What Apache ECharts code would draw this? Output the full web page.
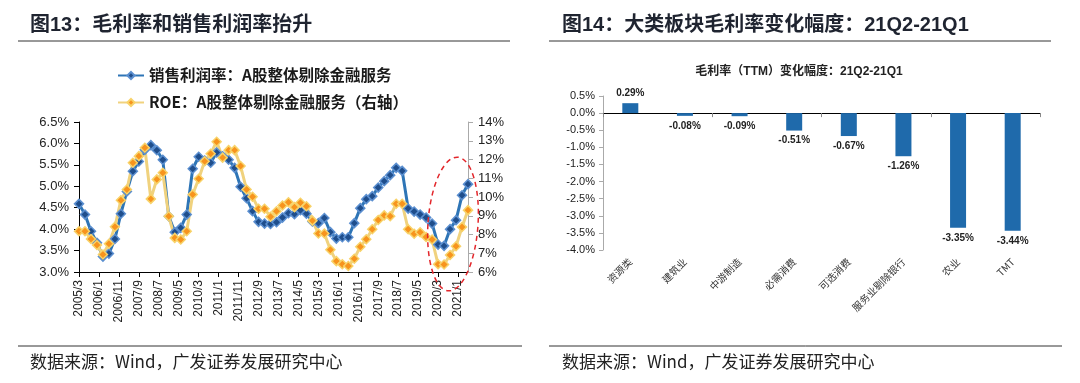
<!DOCTYPE html>
<html><head><meta charset="utf-8">
<script src="https://cdn.jsdelivr.net/npm/echarts@6/dist/echarts.min.js"></script>
<style>html,body{margin:0;padding:0;background:#fff}#c{width:1080px;height:383px}</style>
</head><body><div id="c"></div>
<script>
// ---------- Left chart data (quarterly, 2005/3 .. 2021/6) ----------
const firstYear = 2005, firstMonth = 3, lastYear = 2021, lastMonth = 6;
const marginData = [4.59,4.34,3.95,3.68,3.36,3.43,3.77,4.36,4.88,5.35,
  5.58,5.85,5.96,5.84,5.62,4.30,3.93,4.03,4.34,5.41,
  5.69,5.60,5.55,5.79,5.70,5.62,5.43,4.99,4.72,4.42,
  4.17,4.13,4.12,4.16,4.27,4.37,4.35,4.44,4.36,4.18,
  4.14,4.26,3.93,3.78,3.81,3.81,4.14,4.49,4.70,4.77,
  4.97,5.12,5.26,5.43,5.36,4.48,4.41,4.34,4.27,4.13,
  3.64,3.61,4.00,4.21,4.79,5.05];
const roeData = [8.17,8.17,7.76,7.44,6.93,7.51,8.41,9.83,10.40,11.83,
  12.18,12.63,9.90,10.94,11.29,8.97,7.82,7.73,8.17,10.13,
  10.97,11.91,12.31,12.95,12.10,12.50,12.50,11.65,10.40,10.01,
  9.37,9.37,8.95,9.24,9.55,9.72,9.46,9.69,9.51,8.74,
  8.05,8.05,7.19,6.58,6.41,6.32,6.71,7.35,7.75,8.28,
  8.77,9.02,8.97,9.64,9.64,8.28,8.04,8.12,7.87,7.73,
  6.41,6.40,6.91,7.37,8.40,9.30];
const leftTickLabels = ['2005/3','2006/1','2006/11','2007/9','2008/7','2009/5','2010/3','2011/1','2011/11','2012/9',
  '2013/7','2014/5','2015/3','2016/1','2016/11','2017/9','2018/7','2019/5','2020/3','2021/1'];
const marginName = '销售利润率：A股整体剔除金融服务';
const roeName = 'ROE：A股整体剔除金融服务（右轴）';

// ---------- Right chart data ----------
const sectors = ['资源类','建筑业','中游制造','必需消费','可选消费','服务业剔除银行','农业','TMT'];
const sectorChange = [0.29,-0.08,-0.09,-0.51,-0.67,-1.26,-3.35,-3.44];

// monthly category axis
const months = [];
for (let y = firstYear; y <= lastYear; y++) {
  for (let m = 1; m <= 12; m++) {
    if (y === firstYear && m < firstMonth) continue;
    if (y === lastYear && m > lastMonth) continue;
    months.push(y + '/' + m);
  }
}
const quarterIdx = [];
for (let i = 0; i < months.length; i++) { const m = +months[i].split('/')[1]; if (m % 3 === 0) quarterIdx.push(i); }
const showLabel = (idx) => leftTickLabels.indexOf(months[idx]) >= 0;

const FONT = '"Liberation Sans","Noto Sans CJK SC",sans-serif';
const CJK = '"Noto Sans CJK SC","Liberation Sans",sans-serif';

const chart = echarts.init(document.getElementById('c'), null, {renderer: 'canvas'});
chart.setOption({
  animation: false,
  backgroundColor: '#fff',
  textStyle: {fontFamily: FONT},
  legend: {
    orient: 'vertical', left: 112, top: 62, itemWidth: 26, itemHeight: 9, itemGap: 10,
    textStyle: {fontSize: 15.5, fontWeight: 'bold', color: '#1a1a1a', fontFamily: CJK, lineHeight: 17},
    data: [marginName, roeName]
  },
  grid: [
    {left: 79, top: 122, width: 389, height: 150},
    {left: 603, top: 96, width: 437, height: 154}
  ],
  xAxis: [
    {gridIndex: 0, type: 'category', data: months, boundaryGap: false,
      axisLine: {lineStyle: {color: '#000', width: 1}},
      axisTick: {interval: (i) => showLabel(i), length: 5, lineStyle: {color: '#000'}},
      axisLabel: {interval: (i) => showLabel(i), rotate: 90, fontSize: 12, color: '#222', margin: 8, fontFamily: FONT}},
    {gridIndex: 1, type: 'category', data: sectors,
      axisLine: {onZero: true, lineStyle: {color: '#000', width: 1}},
      axisTick: {show: true, length: 4, lineStyle: {color: '#888'}},
      axisLabel: {show: false}},
    {gridIndex: 1, type: 'category', data: sectors, position: 'bottom',
      axisLine: {show: false, onZero: false}, axisTick: {show: false},
      axisLabel: {rotate: 45, fontSize: 10, color: '#333', margin: 10, fontFamily: CJK, interval: 0}}
  ],
  yAxis: [
    {gridIndex: 0, type: 'value', min: 3, max: 6.5, interval: 0.5, position: 'left',
      axisLine: {show: true, lineStyle: {color: '#000'}},
      axisTick: {show: true, length: 5, lineStyle: {color: '#000'}},
      splitLine: {show: false},
      axisLabel: {formatter: (v) => v.toFixed(1) + '%', fontSize: 13, color: '#222', margin: 10}},
    {gridIndex: 0, type: 'value', min: 6, max: 14, interval: 1, position: 'right',
      axisLine: {show: true, lineStyle: {color: '#aaa'}},
      axisTick: {show: true, length: 5, lineStyle: {color: '#aaa'}},
      splitLine: {show: false},
      axisLabel: {formatter: (v) => v + '%', fontSize: 13, color: '#222', margin: 10}},
    {gridIndex: 1, type: 'value', min: -4, max: 0.5, interval: 0.5,
      axisLine: {show: true, lineStyle: {color: '#aaa'}},
      axisTick: {show: true, length: 4, lineStyle: {color: '#aaa'}},
      splitLine: {show: false},
      axisLabel: {formatter: (v) => v.toFixed(1) + '%', fontSize: 11, color: '#222', margin: 8}}
  ],
  series: [
    {name: marginName, type: 'line', xAxisIndex: 0, yAxisIndex: 0,
      data: marginData.map((v, i) => [quarterIdx[i], v]),
      lineStyle: {color: '#2e75b6', width: 3},
      itemStyle: {color: '#1f4e8c', borderColor: '#5b8fd0', borderWidth: 1.5},
      symbol: 'diamond', symbolSize: 9, showAllSymbol: true},
    {name: roeName, type: 'line', xAxisIndex: 0, yAxisIndex: 1,
      data: roeData.map((v, i) => [quarterIdx[i], v]),
      lineStyle: {color: '#f0d27e', width: 3},
      itemStyle: {color: '#f7941d', borderColor: '#f8d36a', borderWidth: 1.5},
      symbol: 'diamond', symbolSize: 9, showAllSymbol: true},
    {type: 'bar', xAxisIndex: 2, yAxisIndex: 2, barWidth: 16,
      itemStyle: {color: '#1f6aab'},
      data: sectorChange.map((v) => ({value: v, label: {position: v >= 0 ? 'top' : 'bottom'}})),
      label: {show: true, distance: 5, fontSize: 10, fontWeight: 'bold', color: '#222', fontFamily: FONT,
        formatter: (p) => p.value.toFixed(2) + '%'}}
  ],
  graphic: [
    {type: 'text', left: 30, top: 15, style: {text: '图13：毛利率和销售利润率抬升', font: 'bold 20px ' + FONT, fill: '#1f2430'}},
    {type: 'text', left: 562, top: 15, style: {text: '图14：大类板块毛利率变化幅度：21Q2-21Q1', font: 'bold 20px ' + FONT, fill: '#1f2430'}},
    {type: 'line', shape: {x1: 18, y1: 41, x2: 510, y2: 41}, style: {stroke: '#333', lineWidth: 1}},
    {type: 'line', shape: {x1: 549, y1: 41, x2: 1051, y2: 41}, style: {stroke: '#333', lineWidth: 1}},
    {type: 'line', shape: {x1: 18, y1: 346, x2: 522, y2: 346}, style: {stroke: '#333', lineWidth: 1}},
    {type: 'line', shape: {x1: 549, y1: 346, x2: 1062, y2: 346}, style: {stroke: '#333', lineWidth: 1}},
    {type: 'text', left: 30, top: 353, style: {text: '数据来源：Wind，广发证券发展研究中心', font: '17px ' + CJK, fill: '#222'}},
    {type: 'text', left: 562, top: 353, style: {text: '数据来源：Wind，广发证券发展研究中心', font: '17px ' + CJK, fill: '#222'}},
    {type: 'text', x: 799, y: 72, style: {text: '毛利率（TTM）变化幅度：21Q2-21Q1', font: 'bold 12px ' + FONT, fill: '#222', align: 'center', verticalAlign: 'middle'}},
    {type: 'ellipse', x: 453, y: 224, rotation: -0.07, z: 10,
      shape: {cx: 0, cy: 0, rx: 25, ry: 67},
      style: {fill: 'none', stroke: '#e3262b', lineWidth: 1.5, lineDash: [5, 4]}}
  ]
});
</script></body></html>
